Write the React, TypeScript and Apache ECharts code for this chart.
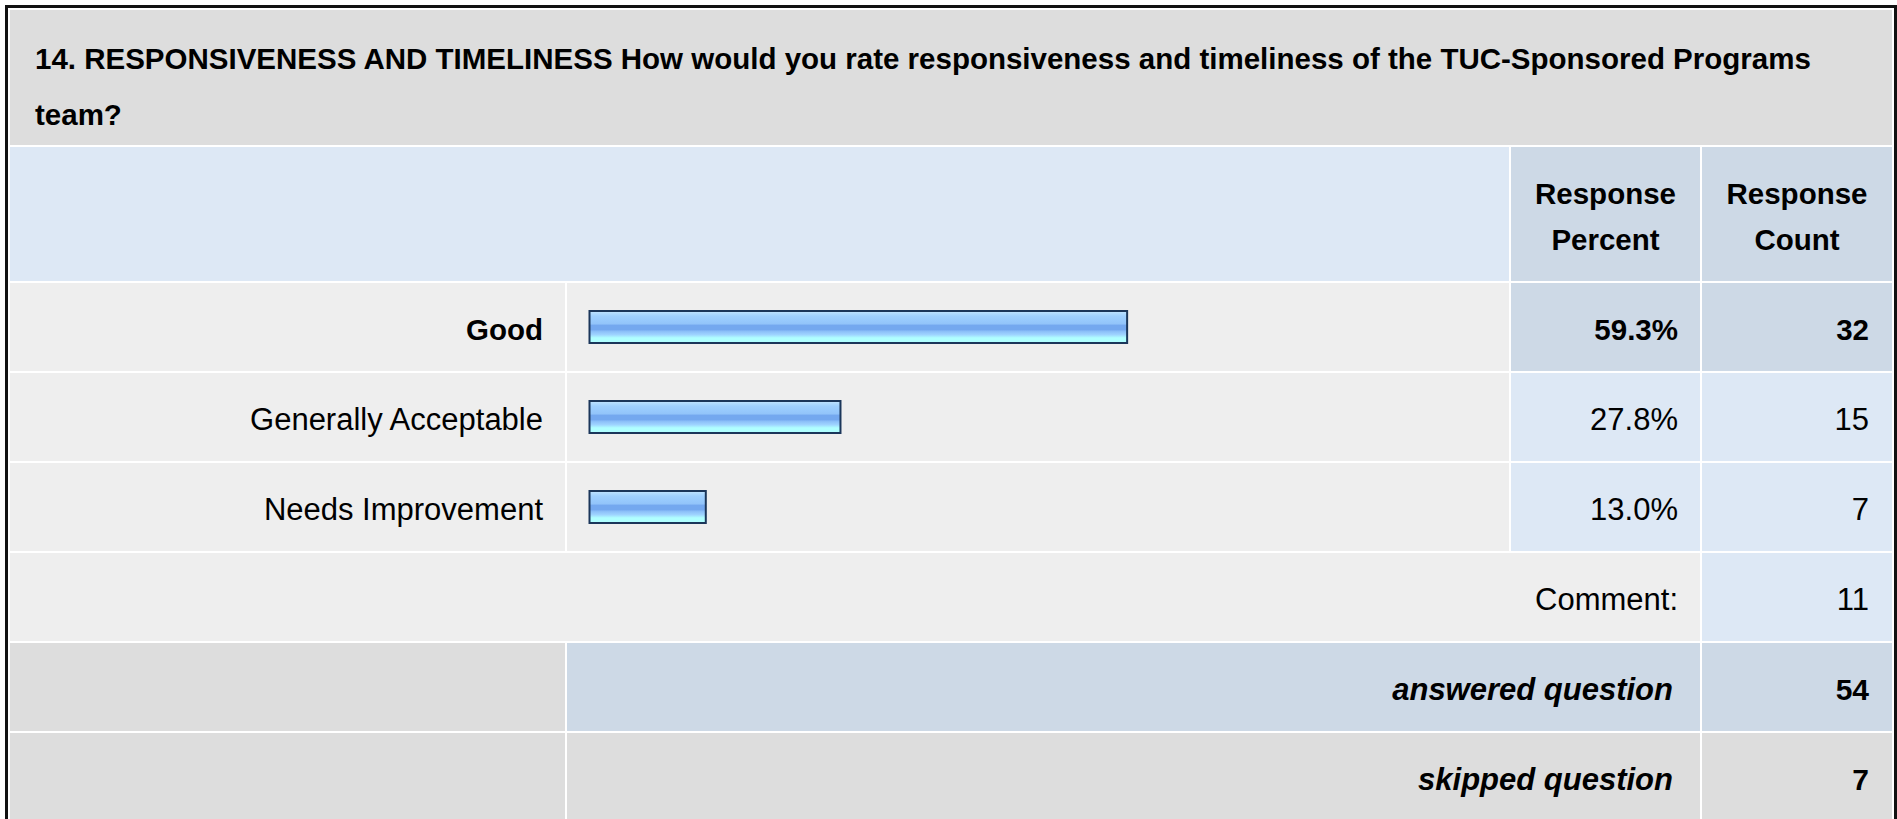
import React, { useEffect, useRef } from "react";
import * as echarts from "echarts";

const titleLines = [
  "14. RESPONSIVENESS AND TIMELINESS How would you rate responsiveness and timeliness of the TUC-Sponsored Programs",
  "team?",
];
const headerPercent = ["Response", "Percent"];
const headerCount = ["Response", "Count"];
const categories = ["Good", "Generally Acceptable", "Needs Improvement"];
const percents = [59.3, 27.8, 13.0];
const counts = [32, 15, 7];
const highlighted = [true, false, false];
const commentLabel = "Comment:";
const commentCount = 11;
const answeredLabel = "answered question";
const answeredCount = 54;
const skippedLabel = "skipped question";
const skippedCount = 7;

const W = 1897;
const H = 819;
const FONT = "'Liberation Sans', Arial, sans-serif";
const FS_REG = 31;
const FS_BOLD = 29.5;
const FS_ITAL = 31;
const GRAY = "#dddddd";
const LIGHT = "#eeeeee";
const BLUE = "#dde8f5";
const STEEL = "#cdd9e6";

// column edges
const X0 = 10, X1 = 565, X2 = 567, X3 = 1509, X4 = 1511, X5 = 1700, X6 = 1702, X7 = 1892;
// row edges
const rowTitle = [10, 145];
const rowHeader = [147, 281];
const dataRows = [
  [283, 371],
  [373, 461],
  [463, 551],
];
const rowComment = [553, 641];
const rowAnswered = [643, 731];
const rowSkipped = [733, 821];

function rect(x1: number, y1: number, x2: number, y2: number, fill: string, z = 0) {
  return { type: "rect", z, shape: { x: x1, y: y1, width: x2 - x1, height: y2 - y1 }, style: { fill } };
}
function txt(
  text: string,
  x: number,
  y: number,
  align: string,
  opts: { bold?: boolean; italic?: boolean; size?: number } = {}
) {
  const size = opts.size ?? (opts.italic ? FS_ITAL : opts.bold ? FS_BOLD : FS_REG);
  return {
    type: "text",
    z: 5,
    x,
    y,
    style: {
      text,
      fill: "#000000",
      fontSize: size,
      fontFamily: FONT,
      fontWeight: opts.bold ? "bold" : "normal",
      fontStyle: opts.italic ? "italic" : "normal",
      textAlign: align,
      textVerticalAlign: "middle",
    },
  };
}

export default function App() {
  const ref = useRef<HTMLDivElement>(null);
  useEffect(() => {
    if (!ref.current) return;
    const chart = echarts.init(ref.current, undefined, { renderer: "svg" });
    const els: any[] = [];
    // outer frame
    els.push(rect(5, 5, W, H + 20, "#111111", -2));
    els.push(rect(8, 8, 1894, H + 20, "#ffffff", -1));
    // title
    els.push(rect(X0, rowTitle[0], X7, rowTitle[1], GRAY));
    els.push(txt(titleLines[0], 35, 58, "left", { bold: true }));
    els.push(txt(titleLines[1], 35, 114, "left", { bold: true }));
    // header
    els.push(rect(X0, rowHeader[0], X3, rowHeader[1], BLUE));
    els.push(rect(X4, rowHeader[0], X5, rowHeader[1], STEEL));
    els.push(rect(X6, rowHeader[0], X7, rowHeader[1], STEEL));
    const pc = (X4 + X5) / 2;
    const cc = (X6 + X7) / 2;
    els.push(txt(headerPercent[0], pc, 193.5, "center", { bold: true }));
    els.push(txt(headerPercent[1], pc, 239, "center", { bold: true }));
    els.push(txt(headerCount[0], cc, 193.5, "center", { bold: true }));
    els.push(txt(headerCount[1], cc, 239, "center", { bold: true }));
    // data rows
    dataRows.forEach((r, i) => {
      const hl = highlighted[i];
      els.push(rect(X0, r[0], X1, r[1], LIGHT));
      els.push(rect(X2, r[0], X3, r[1], LIGHT));
      els.push(rect(X4, r[0], X5, r[1], hl ? STEEL : BLUE));
      els.push(rect(X6, r[0], X7, r[1], hl ? STEEL : BLUE));
      const cy = (r[0] + r[1]) / 2 + 2;
      els.push(txt(categories[i], 543, cy, "right", { bold: hl }));
      els.push(txt(percents[i].toFixed(1) + "%", 1678, cy, "right", { bold: hl }));
      els.push(txt(String(counts[i]), 1869, cy, "right", { bold: hl }));
    });
    // comment row
    els.push(rect(X0, rowComment[0], X5, rowComment[1], LIGHT));
    els.push(rect(X6, rowComment[0], X7, rowComment[1], BLUE));
    {
      const cy = (rowComment[0] + rowComment[1]) / 2 + 2;
      els.push(txt(commentLabel, 1678, cy, "right"));
      els.push(txt(String(commentCount), 1869, cy, "right"));
    }
    // answered row
    els.push(rect(X0, rowAnswered[0], X1, rowAnswered[1], GRAY));
    els.push(rect(X2, rowAnswered[0], X5, rowAnswered[1], STEEL));
    els.push(rect(X6, rowAnswered[0], X7, rowAnswered[1], STEEL));
    {
      const cy = (rowAnswered[0] + rowAnswered[1]) / 2 + 2;
      els.push(txt(answeredLabel, 1673, cy, "right", { bold: true, italic: true }));
      els.push(txt(String(answeredCount), 1869, cy, "right", { bold: true, size: 30 }));
    }
    // skipped row
    els.push(rect(X0, rowSkipped[0], X1, rowSkipped[1], GRAY));
    els.push(rect(X2, rowSkipped[0], X5, rowSkipped[1], GRAY));
    els.push(rect(X6, rowSkipped[0], X7, rowSkipped[1], GRAY));
    {
      const cy = (rowSkipped[0] + rowSkipped[1]) / 2 + 2;
      els.push(txt(skippedLabel, 1673, cy, "right", { bold: true, italic: true }));
      els.push(txt(String(skippedCount), 1869, cy, "right", { bold: true, size: 30 }));
    }

    const barGradient = new echarts.graphic.LinearGradient(0, 0, 0, 1, [
      { offset: 0, color: "#c4e6ff" },
      { offset: 0.08, color: "#b0dbff" },
      { offset: 0.16, color: "#9fd0ff" },
      { offset: 0.4, color: "#92c4fa" },
      { offset: 0.45, color: "#74a8ef" },
      { offset: 0.58, color: "#74a8ef" },
      { offset: 0.64, color: "#8cc0f8" },
      { offset: 0.74, color: "#9fd4ff" },
      { offset: 0.84, color: "#b0ffff" },
      { offset: 1, color: "#b0ffff" },
    ]);

    chart.setOption({
      animation: false,
      graphic: { elements: els },
      grid: { left: 588.5, top: dataRows[0][0] - 1, width: 910, height: 270, containLabel: false },
      xAxis: { type: "value", min: 0, max: 100, show: false },
      yAxis: { type: "category", data: categories, inverse: true, show: false },
      series: [
        {
          type: "bar",
          z: 10,
          data: percents,
          barWidth: 34,
          itemStyle: { color: barGradient, borderColor: "#1b365a", borderWidth: 2 },
        },
      ],
    });
    return () => chart.dispose();
  }, []);
  return (
    <div
      ref={ref}
      style={{ position: "absolute", left: 0, top: 0, width: W, height: H }}
    />
  );
}
